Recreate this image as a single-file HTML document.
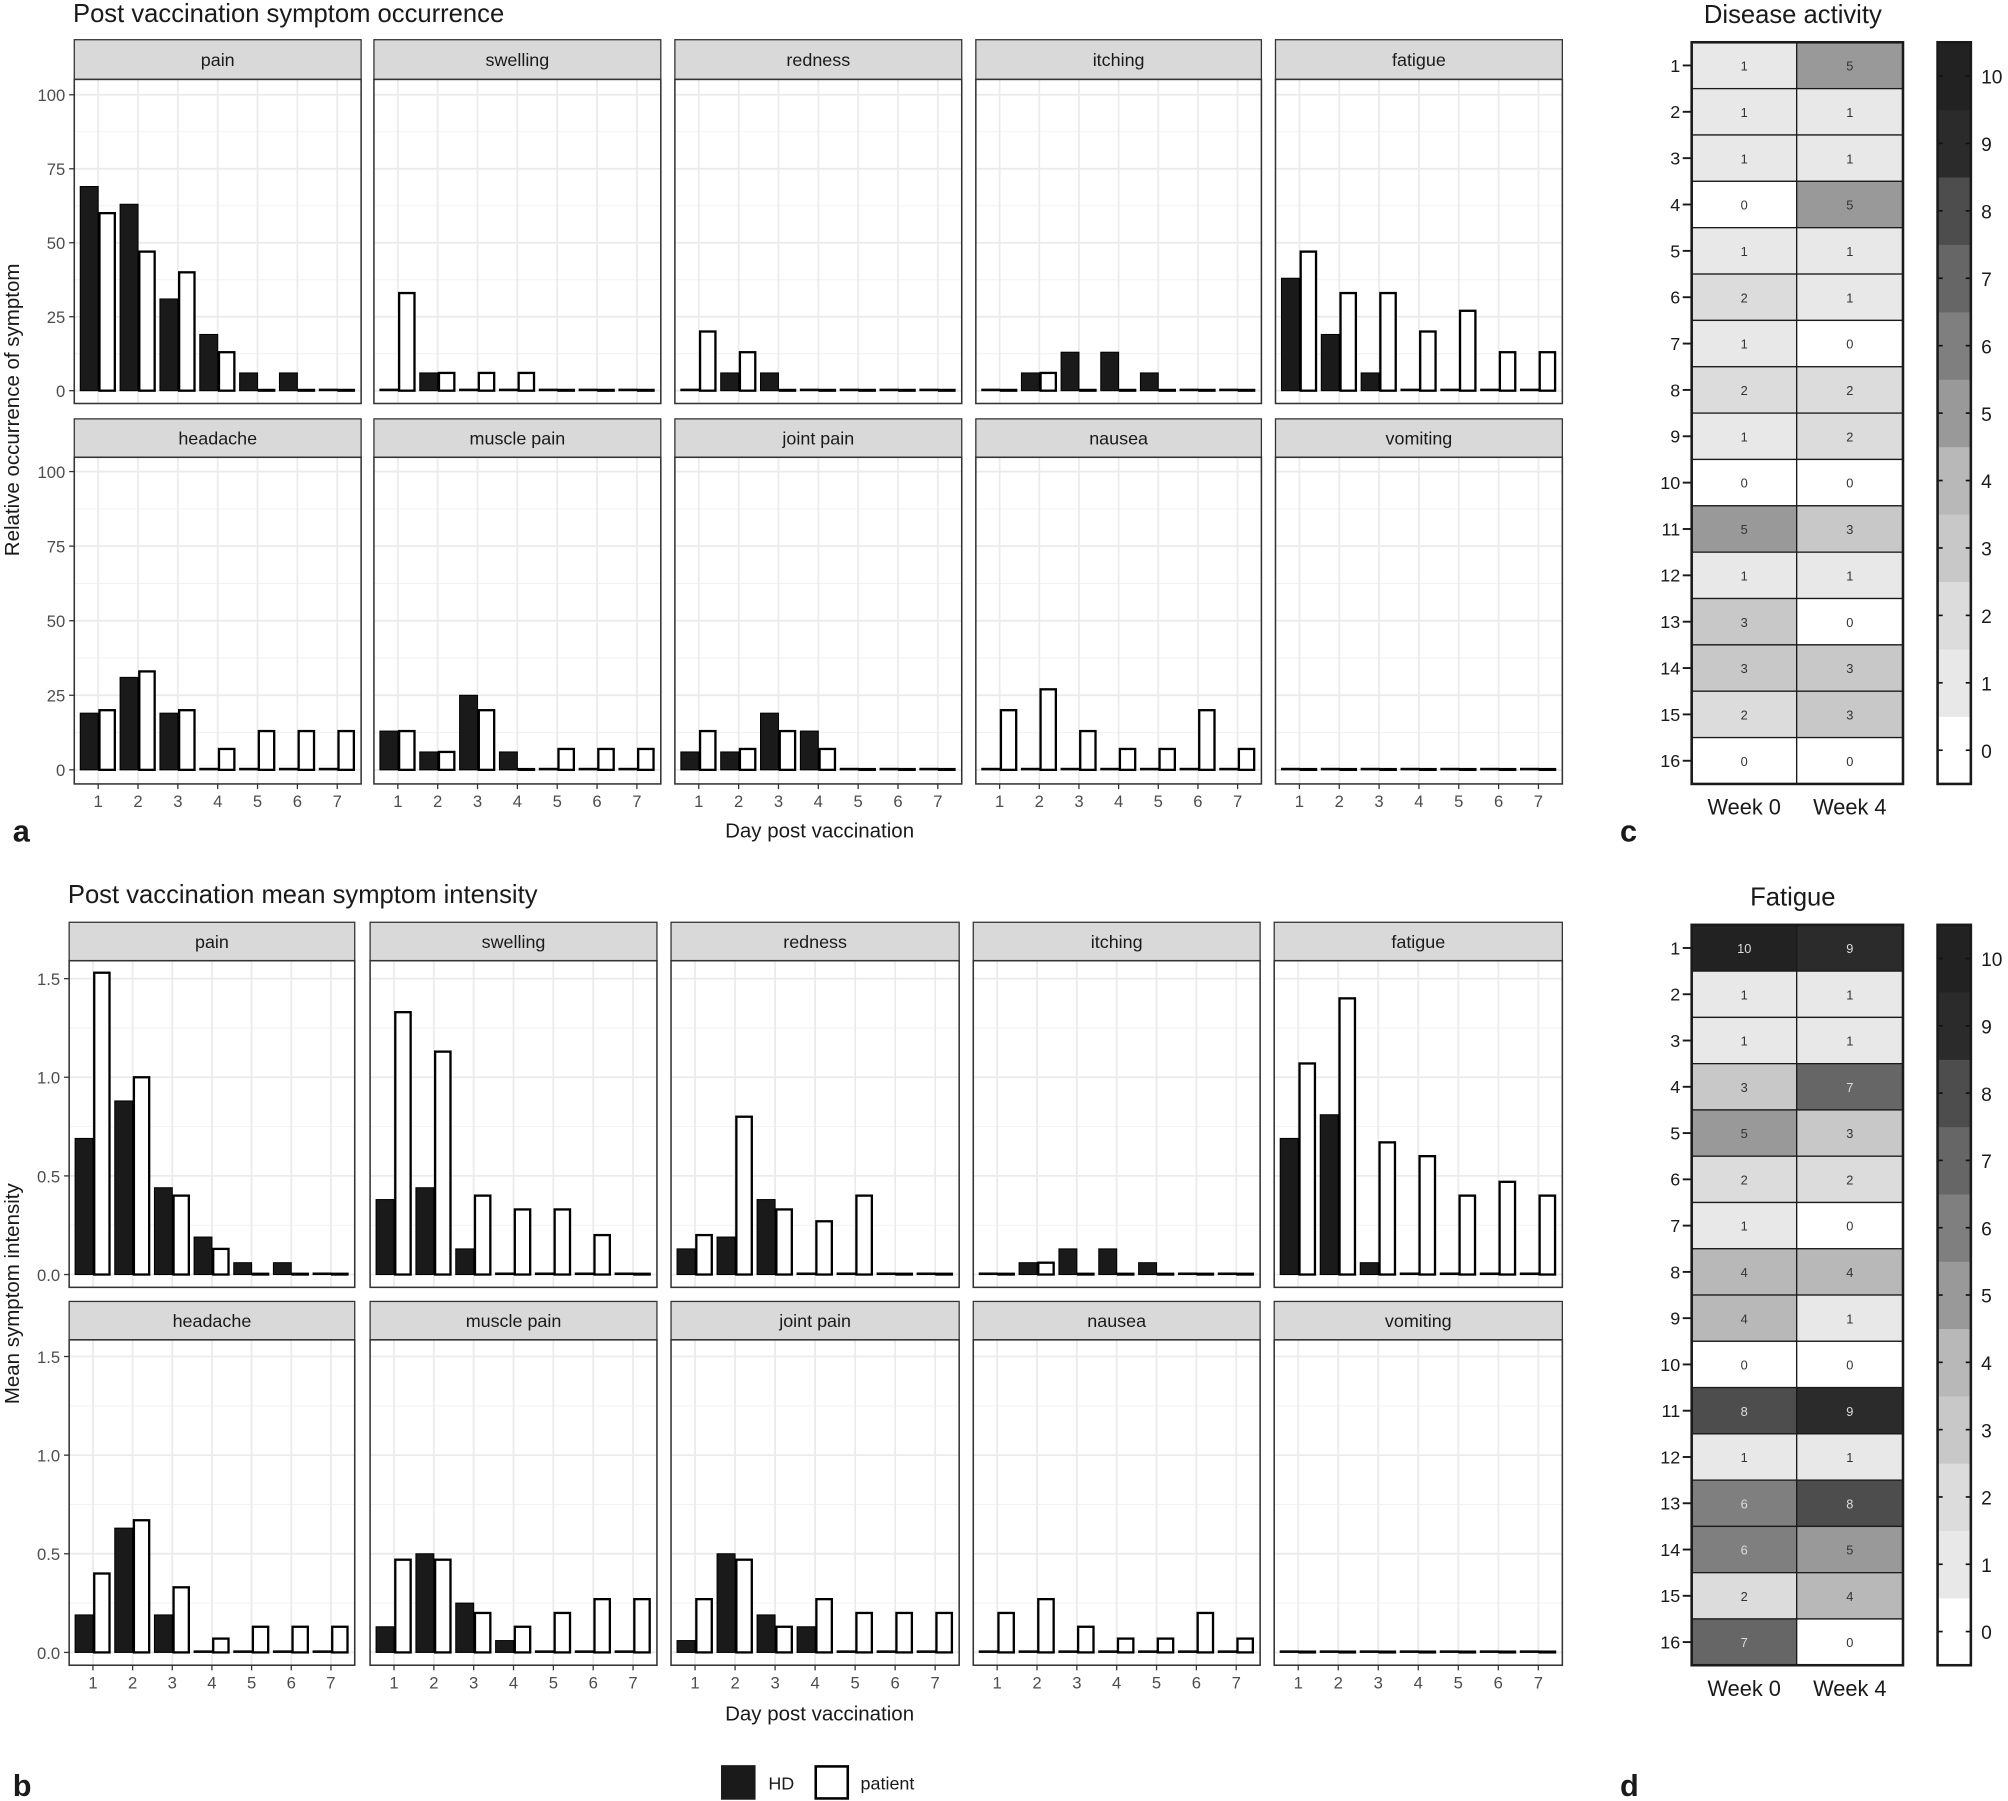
<!DOCTYPE html>
<html><head><meta charset="utf-8"><style>
html,body{margin:0;padding:0;background:#fff}
svg{display:block}
text{font-family:"Liberation Sans","DejaVu Sans",sans-serif}
</style></head><body>
<svg id="fig" width="2008" height="1801" viewBox="0 0 1568 1406" preserveAspectRatio="none" xmlns="http://www.w3.org/2000/svg"></svg>
<script>
const days=[1,2,3,4,5,6,7];
const symptoms=["pain","swelling","redness","itching","fatigue","headache","muscle pain","joint pain","nausea","vomiting"];
const occHD=[[69,63,31,19,6,6,0],[0,6,0,0,0,0,0],[0,6,6,0,0,0,0],[0,6,13,13,6,0,0],[38,19,6,0,0,0,0],[19,31,19,0,0,0,0],[13,6,25,6,0,0,0],[6,6,19,13,0,0,0],[0,0,0,0,0,0,0],[0,0,0,0,0,0,0]];
const occPT=[[60,47,40,13,0,0,0],[33,6,6,6,0,0,0],[20,13,0,0,0,0,0],[0,6,0,0,0,0,0],[47,33,33,20,27,13,13],[20,33,20,7,13,13,13],[13,6,20,0,7,7,7],[13,7,13,7,0,0,0],[20,27,13,7,7,20,7],[0,0,0,0,0,0,0]];
const intHD=[[.69,.88,.44,.19,.06,.06,0],[.38,.44,.13,0,0,0,0],[.13,.19,.38,0,0,0,0],[0,.06,.13,.13,.06,0,0],[.69,.81,.06,0,0,0,0],[.19,.63,.19,0,0,0,0],[.13,.50,.25,.06,0,0,0],[.06,.50,.19,.13,0,0,0],[0,0,0,0,0,0,0],[0,0,0,0,0,0,0]];
const intPT=[[1.53,1.0,.40,.13,0,0,0],[1.33,1.13,.40,.33,.33,.20,0],[.20,.80,.33,.27,.40,0,0],[0,.06,0,0,0,0,0],[1.07,1.40,.67,.60,.40,.47,.40],[.40,.67,.33,.07,.13,.13,.13],[.47,.47,.20,.13,.20,.27,.27],[.27,.47,.13,.27,.20,.20,.20],[.20,.27,.13,.07,.07,.20,.07],[0,0,0,0,0,0,0]];
const occTicks=[0,25,50,75,100];
const intTicks=[0,0.5,1.0,1.5];
const intTickLabels=["0.0","0.5","1.0","1.5"];
const patients=[1,2,3,4,5,6,7,8,9,10,11,12,13,14,15,16];
const weeks=["Week 0","Week 4"];
const daW0=[1,1,1,0,1,2,1,2,1,0,5,1,3,3,2,0];
const daW4=[5,1,1,5,1,1,0,2,2,0,3,1,0,3,3,0];
const faW0=[10,1,1,3,5,2,1,4,4,0,8,1,6,6,2,7];
const faW4=[9,1,1,7,3,2,0,4,1,0,9,1,8,5,4,0];
const cbTicks=[0,1,2,3,4,5,6,7,8,9,10];

const NS="http://www.w3.org/2000/svg";
const svg=document.getElementById("fig");
function el(tag,attrs,parent,txt){const e=document.createElementNS(NS,tag);for(const k in attrs)e.setAttribute(k,attrs[k]);if(txt!==undefined)e.textContent=txt;(parent||svg).appendChild(e);return e;}
function txt(x,y,s,size,anchor,parent,extra){const t=el("text",Object.assign({x:x,y:y,"font-size":size,"text-anchor":anchor||"start",fill:"#1a1a1a"},extra||{}),parent,s);return t;}

function facetChart(name,title,titleX,titleY,cols,rows,HD,PT,ticks,tickLabels,unitPx,yTitle,yTitleY,xTitleY){
  const g=el("g",{},svg);
  
  
  const t=txt(titleX,titleY,title,20,"start",g);
  
  
  symptoms.forEach((s,i)=>{
    const r=rows[Math.floor(i/5)], c=cols[i%5];
    const x0=c[0],x1=c[1],w=x1-x0,u=w/7.2;
    const pg=el("g",{},g);
    
    
    const sr=el("rect",{x:x0,y:r.s,width:w,height:r.t-r.s,fill:"#d9d9d9",stroke:"#333","stroke-width":1},pg);
    
    
    txt((x0+x1)/2,r.s+(r.t-r.s)/2+5,s,14,"middle",pg);
    el("rect",{x:x0,y:r.t,width:w,height:r.b-r.t,fill:"#fff"},pg);
    const Y=v=>r.z-v*unitPx*r.k;
    // minor gridlines
    for(let k=0;k<ticks.length-1;k++){const m=(ticks[k]+ticks[k+1])/2;el("line",{x1:x0,x2:x1,y1:Y(m),y2:Y(m),stroke:"#f2f2f2","stroke-width":0.8},pg);}
    ticks.forEach(v=>el("line",{x1:x0,x2:x1,y1:Y(v),y2:Y(v),stroke:"#ebebeb","stroke-width":1.4},pg));
    days.forEach(d=>{const cx=x0+(d-0.4)*u;el("line",{x1:cx,x2:cx,y1:r.t,y2:r.b,stroke:"#ebebeb","stroke-width":1.4},pg);});
    days.forEach((d,j)=>{
      const cx=x0+(d-0.4)*u,bw=0.45*u;
      const hv=HD[i][j],pv=PT[i][j];
      const hh=Math.max(hv*unitPx*r.k,1.2);
      const b1=el("rect",{x:cx-bw,y:r.z-hh,width:bw,height:hh,fill:"#1a1a1a",stroke:"#000","stroke-width":0.8},pg);
      
      
      const ph=Math.max(pv*unitPx*r.k,0.6);
      const b2=el("rect",{x:cx+1,y:r.z-ph,width:bw-2,height:ph,fill:"#fff",stroke:"#000","stroke-width":1.8},pg);
      
      
    });
    el("rect",{x:x0,y:r.t,width:w,height:r.b-r.t,fill:"none",stroke:"#333","stroke-width":1.2},pg);
    if(i%5===0){ticks.forEach((v,k)=>{el("line",{x1:x0-4,x2:x0,y1:Y(v),y2:Y(v),stroke:"#333"},pg);txt(x0-7,Y(v)+5,tickLabels[k],13,"end",pg,{fill:"#4d4d4d"});});}
    if(i>=5){days.forEach(d=>{const cx=x0+(d-0.4)*u;el("line",{x1:cx,x2:cx,y1:r.b,y2:r.b+4,stroke:"#333"},pg);txt(cx,r.b+18,String(d),13,"middle",pg,{fill:"#4d4d4d"});});}
  });
  const yt=txt(0,0,yTitle,16,"middle",g,{transform:`translate(15,${yTitleY}) rotate(-90)`});
  
  
  const xt=txt(640,xTitleY,"Day post vaccination",16,"middle",g);
  
  
}

facetChart("occurrence-chart","Post vaccination symptom occurrence",57,17,
  [[58,282],[292,516],[527,751],[762,985],[996,1220]],
  [{s:31,t:62,b:315,z:305,k:1},{s:327,t:357,b:612,z:601,k:1.008}],
  occHD,occPT,occTicks,occTicks.map(String),2.31,"Relative occurrence of symptom",320,654);
facetChart("intensity-chart","Post vaccination mean symptom intensity",53,705,
  [[54,277],[289,513],[524,749],[760,984],[995,1220]],
  [{s:720,t:750,b:1005,z:995,k:1},{s:1016,t:1046,b:1300,z:1290,k:1}],
  intHD,intPT,intTicks,intTickLabels,154,"Mean symptom intensity",1010,1343);

const grays={0:"#ffffff",1:"#e8e8e8",2:"#dcdcdc",3:"#c8c8c8",4:"#b8b8b8",5:"#999999",6:"#7f7f7f",7:"#666666",8:"#4d4d4d",9:"#2b2b2b",10:"#222222"};
function heatmap(name,title,top,bot,A,B){
  const g=el("g",{},svg);
  
  
  const t=txt(1400,top-15,title,20,"middle",g);
  
  
  const x0=1321,xm=1403,x1=1486,rh=(bot-top)/16;
  patients.forEach((p,i)=>{
    const y=top+i*rh;
    [[A,x0,xm],[B,xm,x1]].forEach(([arr,a,b],k)=>{
      const v=arr[i];
      const c=el("rect",{x:a,y:y,width:b-a,height:rh,fill:grays[v],stroke:"#1a1a1a","stroke-width":1},g);
      
      
      txt((a+b)/2,y+rh/2+4,String(v),10,"middle",g,{fill:v>=6?"#ddd":"#333"});
    });
    el("line",{x1:x0-7,x2:x0,y1:y+rh/2,y2:y+rh/2,stroke:"#1a1a1a","stroke-width":1.5},g);
    txt(x0-9,y+rh/2+5,String(p),14,"end",g);
  });
  el("rect",{x:x0,y:top,width:x1-x0,height:bot-top,fill:"none",stroke:"#1a1a1a","stroke-width":2},g);
  txt((x0+xm)/2,bot+24,weeks[0],17,"middle",g);
  txt((xm+x1)/2,bot+24,weeks[1],17,"middle",g);
  // colorbar
  const cb=el("g",{},g);
  
  
  const cx0=1513,cx1=1539,unit=(bot-top)/11,CY=v=>bot-(v+0.5)*unit;
  cbTicks.forEach(v=>{el("rect",{x:cx0,y:CY(v)-unit/2,width:cx1-cx0,height:unit+0.3,fill:grays[v]},cb);});
  cbTicks.forEach(v=>{
    el("line",{x1:cx0,x2:cx0+4,y1:CY(v),y2:CY(v),stroke:"#111","stroke-width":1.3},cb);
    el("line",{x1:cx1-4,x2:cx1,y1:CY(v),y2:CY(v),stroke:"#111","stroke-width":1.3},cb);
    txt(cx1+8,CY(v)+6,String(v),15,"start",cb);
  });
  el("rect",{x:cx0,y:top,width:cx1-cx0,height:bot-top,fill:"none",stroke:"#1a1a1a","stroke-width":2},cb);
}
heatmap("disease-activity-heatmap","Disease activity",33,612,daW0,daW4);
heatmap("fatigue-heatmap","Fatigue",722,1300,faW0,faW4);

// panel letters
[["a",10,657],["b",10,1402],["c",1265,657],["d",1265,1402]].forEach(([l,x,y])=>{const t=txt(x,y,l,24,"start",svg,{"font-weight":"bold"});});
// legend
const lg=el("g",{},svg);


const l1=el("rect",{x:563,y:1378,width:27,height:27,fill:"#1a1a1a"},lg);


txt(600,1397,"HD",14,"start",lg);
const l2=el("rect",{x:637,y:1379,width:25,height:25,fill:"#fff",stroke:"#000","stroke-width":2},lg);


txt(672,1397,"patient",14,"start",lg);
</script>
</body></html>
